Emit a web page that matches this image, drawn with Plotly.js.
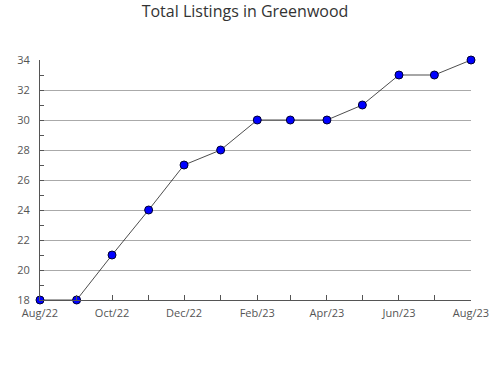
<!DOCTYPE html>
<html>
<head>
<meta charset="utf-8">
<script src="https://cdn.plot.ly/plotly-3.0.1.min.js"></script>
<style>html,body{margin:0;padding:0;background:#fff;}#chart{width:490px;height:380px;}</style>
</head>
<body>
<div id="chart"></div>
<script>
const months = ['2022-08-01','2022-09-01','2022-10-01','2022-11-01','2022-12-01','2023-01-01','2023-02-01','2023-03-01','2023-04-01','2023-05-01','2023-06-01','2023-07-01','2023-08-01'];
const listings = [18, 18, 21, 24, 27, 28, 30, 30, 30, 31, 33, 33, 34];
const chartTitle = 'Total Listings in Greenwood';

const font = {family: '"Open Sans", "Noto Sans", sans-serif', size: 11, color: '#555'};

Plotly.newPlot('chart', [{
  x: months,
  y: listings,
  type: 'scatter',
  mode: 'lines+markers',
  line: {color: '#000', width: 0.7},
  marker: {color: '#0000ff', size: 8, line: {color: '#000033', width: 1}},
  cliponaxis: false,
  hoverinfo: 'skip'
}], {
  width: 490, height: 380,
  margin: {l: 40, r: 19, t: 60, b: 80},
  paper_bgcolor: '#fff', plot_bgcolor: '#fff',
  showlegend: false,
  font: font,
  title: {text: chartTitle, x: 0.5, xanchor: 'center', y: 0.985, yanchor: 'top',
          font: {family: '"Open Sans", "Noto Sans", sans-serif', size: 16, color: '#333'}},
  xaxis: {
    type: 'date',
    range: ['2022-08-01', '2023-08-01'],
    dtick: 'M2', tick0: '2022-08-01', tickformat: '%b/%y',
    ticks: 'inside', ticklen: 5, tickcolor: '#555', tickwidth: 1,
    minor: {dtick: 'M1', ticks: 'inside', ticklen: 5, tickcolor: '#555'},
    showline: true, linecolor: '#555', linewidth: 1,
    showgrid: false, zeroline: false,
    ticklabelstandoff: 3,
    tickfont: font, fixedrange: true
  },
  yaxis: {
    range: [18, 34], dtick: 2, tick0: 18,
    ticks: 'inside', ticklen: 4, tickcolor: '#555',
    minor: {dtick: 1, ticks: 'inside', ticklen: 4, tickcolor: '#555', showgrid: false},
    showline: true, linecolor: '#555', linewidth: 1,
    showgrid: true, gridcolor: '#aaa', gridwidth: 1,
    zeroline: false, ticklabelstandoff: 7,
    tickfont: font, fixedrange: true
  }
}, {staticPlot: true});
</script>
</body>
</html>
